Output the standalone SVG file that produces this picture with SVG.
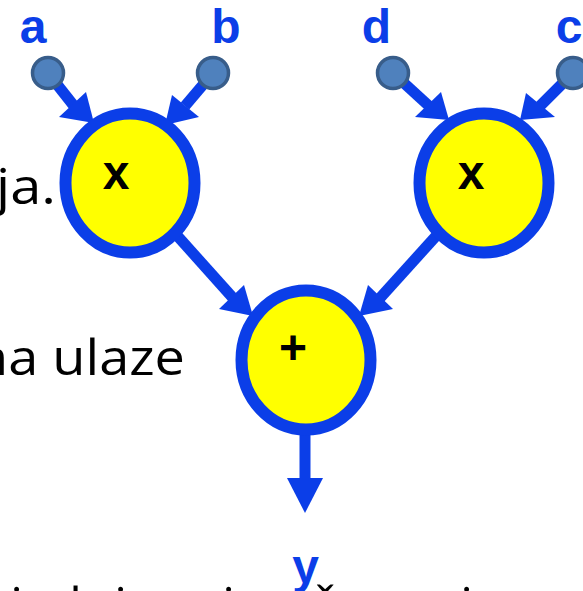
<svg xmlns="http://www.w3.org/2000/svg" width="583" height="591" viewBox="0 0 583 591">
  <style>
    .bg { font-family: "Open Sans", "Liberation Sans", sans-serif; font-size: 50px; fill: #000; }
    .lbl { font-family: "Liberation Sans", Arial, sans-serif; font-weight: bold; font-size: 48px; fill: #0b3ee8; text-anchor: middle; }
    .op { font-family: "Liberation Sans", Arial, sans-serif; font-weight: bold; font-size: 48px; fill: #000; text-anchor: middle; }
    .node { fill: #ffff00; stroke: #0b3ee8; stroke-width: 12; }
    .inp { fill: #4f81bd; stroke: #385d8a; stroke-width: 3.5; }
    .shaft { stroke: #0b3ee8; stroke-width: 11; fill: none; }
    .head { fill: #0b3ee8; stroke: none; }
  </style>

  <!-- background slide text (partially covered / cut) -->
  <g id="background-text">
    <text class="bg" x="-4" y="204" textLength="60" lengthAdjust="spacingAndGlyphs">ja.</text>
    <text class="bg" x="-25" y="375" textLength="210" lengthAdjust="spacingAndGlyphs">na ulaze</text>
    <text class="bg" y="623" text-anchor="middle" x="16.5 75.5 120.5 228.5 323 466.5">iliiči</text>
  </g>

  <g id="connectors">
    <line class="shaft" x1="48" y1="73" x2="74" y2="106"/>
    <polygon class="head" points="59,117 94,123 86,92"/>
    <line class="shaft" x1="213" y1="73" x2="185" y2="106"/>
    <polygon class="head" points="172,95 165,125 199,117"/>
    <line class="shaft" x1="393" y1="73" x2="429" y2="106"/>
    <polygon class="head" points="415,117 449,120 441,92"/>
    <line class="shaft" x1="573" y1="73" x2="540" y2="106"/>
    <polygon class="head" points="526,93 520,120 555,117"/>
    <line class="shaft" x1="130" y1="183" x2="233" y2="298"/>
    <polygon class="head" points="219,309 253,316 244,285"/>
    <line class="shaft" x1="484" y1="183" x2="380" y2="298"/>
    <polygon class="head" points="368,285 359,316 393,309"/>
    <line class="shaft" x1="305" y1="400" x2="305" y2="480"/>
    <polygon class="head" points="287,478 305,513 323,478"/>
  </g>

  <g id="input-a">
    <circle class="inp" cx="48" cy="73" r="15.5"/>
    <text class="lbl" x="33" y="43">a</text>
  </g>
  <g id="input-b">
    <circle class="inp" cx="213" cy="73" r="15.5"/>
    <text class="lbl" x="226" y="43">b</text>
  </g>
  <g id="input-d">
    <circle class="inp" cx="393" cy="73" r="15.5"/>
    <text class="lbl" x="376.5" y="43">d</text>
  </g>
  <g id="input-c">
    <circle class="inp" cx="573" cy="73" r="15.5"/>
    <text class="lbl" x="569" y="43">c</text>
  </g>

  <g id="mul-1">
    <ellipse class="node" cx="130" cy="183" rx="64.5" ry="69.5"/>
    <text class="op" x="116" y="189">x</text>
  </g>
  <g id="mul-2">
    <ellipse class="node" cx="484" cy="183" rx="64.5" ry="69.5"/>
    <text class="op" x="471" y="189">x</text>
  </g>
  <g id="add">
    <ellipse class="node" cx="306" cy="360" rx="64.5" ry="69.5"/>
    <text class="op" x="293" y="364">+</text>
  </g>
  <g id="output-y">
    <text class="lbl" x="305.5" y="583">y</text>
  </g>
</svg>
